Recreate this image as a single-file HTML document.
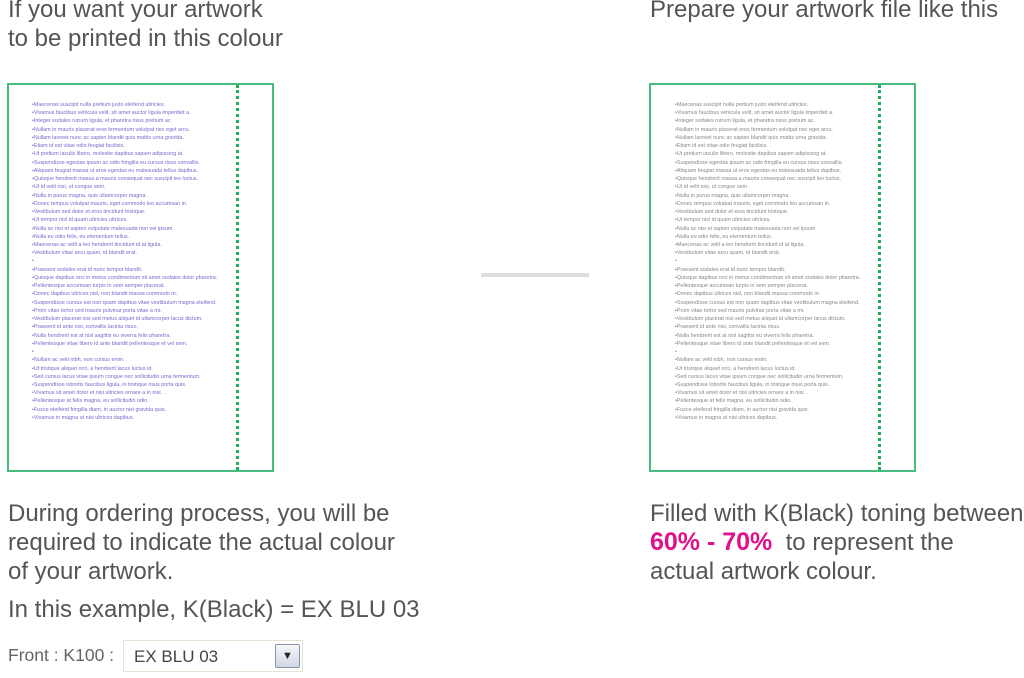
<!DOCTYPE html>
<html><head><meta charset="utf-8"><style>
body{margin:0;width:1024px;height:678px;background:#fff;position:relative;overflow:hidden;font-family:"Liberation Sans",Arial,sans-serif;color:#555}
.t{position:absolute;font-size:24px;line-height:29px;white-space:nowrap}
.box{position:absolute;top:83px;width:263px;height:385px;border:2px solid #46bd7e;box-sizing:content-box}
.dot{position:absolute;top:0;bottom:0;width:0;border-left:3px dotted #1fae5e}
.list{position:absolute;top:16px;font-size:5.4px;line-height:8.24px;white-space:nowrap}
.list div{height:8.24px}
</style></head><body>
<div class="t" style="left:8px;top:-5px">If you want your artwork<br>to be printed in this colour</div>
<div class="t" style="left:650px;top:-5px">Prepare your artwork file like this</div>

<div class="box" style="left:7px"><div class="dot" style="left:227px"></div>
<div class="list" style="left:23px;color:#7a68d0" id="l1"></div></div>
<div class="box" style="left:649px"><div class="dot" style="left:227px"></div>
<div class="list" style="left:24px;color:#888" id="l2"></div></div>

<div style="position:absolute;left:481px;top:273px;width:108px;height:4px;background:#ddd"></div>

<div class="t" style="left:8px;top:499px">During ordering process, you will be<br>required to indicate the actual colour<br>of your artwork.</div>
<div class="t" style="left:8px;top:595px">In this example, K(Black) = EX BLU 03</div>
<div class="t" style="left:650px;top:499px">Filled with K(Black) toning between<br><b style="color:#e0118a;font-size:25px">60% - 70%</b>&nbsp;&nbsp;to represent the<br>actual artwork colour.</div>

<div style="position:absolute;left:8px;top:645px;font-size:17.5px;color:#666">Front : K100 :</div>
<div style="position:absolute;left:123px;top:640px;width:180px;height:32px;border:1px solid #e6e3d6;box-sizing:border-box;background:#fff">
<div style="position:absolute;left:10px;top:6px;font-size:17px;color:#444">EX BLU 03</div>
<div style="position:absolute;left:151px;top:3px;width:23px;height:22px;border:1px solid #8a96a8;border-radius:2px;background:linear-gradient(#f4f6fa,#d0d6e2);font-size:11px;text-align:center;line-height:22px;color:#222">&#9660;</div></div>

<script>
var L=["Maecenas suscipit nulla pretium justo eleifend ultricies.","Vivamus faucibus vehicula velit, sit amet auctor ligula imperdiet a.","Integer sodales rutrum ligula, et pharetra risus pretium ac.","Nullam in mauris placerat eros fermentum volutpat nec eget arcu.","Nullam laoreet nunc ac sapien blandit quis mattis urna gravida.","Etiam id est vitae odio feugiat facilisis.","Ut pretium iaculis libero, molestie dapibus sapien adipiscing at.","Suspendisse egestas ipsum ac odio fringilla eu cursus risus convallis.","Aliquam feugiat massa ut eros egestas eu malesuada tellus dapibus.","Quisque hendrerit massa a mauris consequat nec suscipit leo luctus.","Ut id velit nisi, ut congue sem.","Nulla in purus magna, quis ullamcorper magna.","Donec tempus volutpat mauris, eget commodo leo accumsan in.","Vestibulum sed dolor et eros tincidunt tristique.","Ut tempor nisl id quam ultricies ultrices.","Nulla ac nisi et sapien vulputate malesuada non vel ipsum.","Nulla eu odio felis, eu elementum tellus.","Maecenas ac velit a leo hendrerit tincidunt id at ligula.","Vestibulum vitae arcu quam, id blandit erat.","","Praesent sodales erat id nunc tempor blandit.","Quisque dapibus orci in metus condimentum sit amet sodales dolor pharetra.","Pellentesque accumsan turpis in sem semper placerat.","Donec dapibus ultrices nisl, non blandit massa commodo in.","Suspendisse cursus est non quam dapibus vitae vestibulum magna eleifend.","Proin vitae tortor sed mauris pulvinar porta vitae a mi.","Vestibulum placerat nisi sed metus aliquet id ullamcorper lacus dictum.","Praesent id ante nisi, convallis lacinia risus.","Nulla hendrerit est at nisl sagittis eu viverra felis pharetra.","Pellentesque vitae libero id ante blandit pellentesque et vel sem.","","Nullam ac velit nibh, non cursus enim.","Ut tristique aliquet orci, a hendrerit lacus luctus id.","Sed cursus lacus vitae ipsum congue nec sollicitudin urna fermentum.","Suspendisse lobortis faucibus ligula, in tristique risus porta quis.","Vivamus sit amet dolor et nisi ultricies ornare a in nisi. .","Pellentesque at felis magna, eu sollicitudin odio.","Fusce eleifend fringilla diam, in auctor nisi gravida quis.","Vivamus in magna ut nisi ultrices dapibus."];
var h=L.map(function(s){return "<div>&#8226;"+s+"</div>"}).join("");
document.getElementById("l1").innerHTML=h;document.getElementById("l2").innerHTML=h;
</script>
</body></html>
